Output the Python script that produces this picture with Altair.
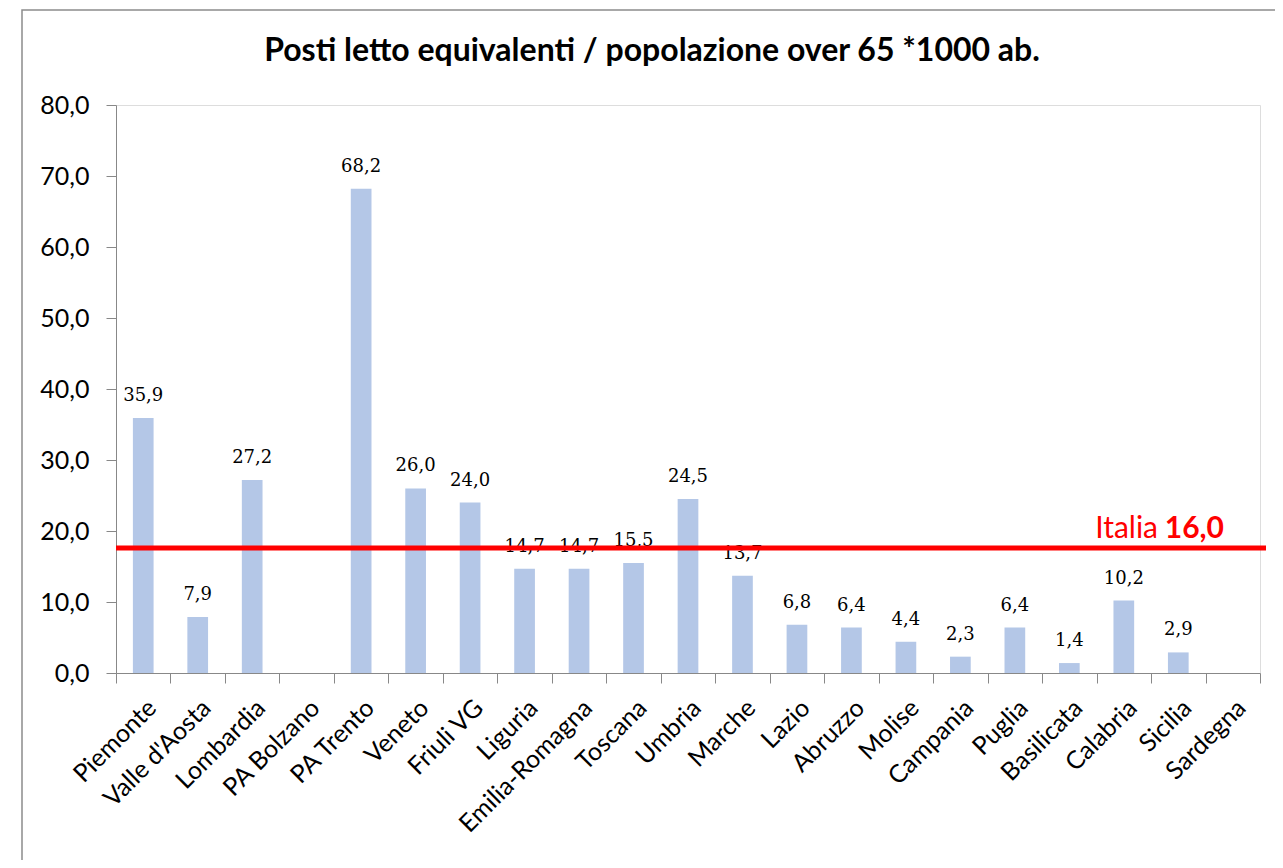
import altair as alt
import pandas as pd

regions = ["Piemonte", "Valle d'Aosta", "Lombardia", "PA Bolzano", "PA Trento", "Veneto",
           "Friuli VG", "Liguria", "Emilia-Romagna", "Toscana", "Umbria", "Marche", "Lazio",
           "Abruzzo", "Molise", "Campania", "Puglia", "Basilicata", "Calabria", "Sicilia", "Sardegna"]
values = [35.9, 7.9, 27.2, None, 68.2, 26.0, 24.0, 14.7, 14.7, 15.5, 24.5, 13.7, 6.8,
          6.4, 4.4, 2.3, 6.4, 1.4, 10.2, 2.9, None]
italia_line = [17.6]
italia_label = ["Italia", "16,0"]
y_ticks = [0, 10, 20, 30, 40, 50, 60, 70, 80]

df = pd.DataFrame({"region": regions, "value": values})
df["label"] = df["value"].map(lambda v: "" if pd.isna(v) else f"{v:.1f}".replace(".", ","))

W, H = 1144, 568

xscale = alt.Scale(domain=regions, paddingInner=0, paddingOuter=0)
xenc = alt.X("region:N", sort=regions, title=None, scale=xscale,
             axis=alt.Axis(labelAngle=-45, labelAlign="right", labelBaseline="top",
                           labelFont="Lato", labelFontSize=25, labelColor="#000000",
                           labelPadding=12, tickBand="extent", tickSize=10,
                           tickColor="#888888", domainColor="#888888", labelOverlap=False))
yscale = alt.Scale(domain=[0, 80], nice=False)
yenc = alt.Y("value:Q", scale=yscale, title=None,
             axis=alt.Axis(values=y_ticks, grid=False, labelFont="Lato", labelFontSize=25,
                           labelColor="#000000", tickSize=10, tickColor="#888888",
                           domainColor="#888888", labelPadding=17,
                           labelExpr="replace(format(datum.value, '.1f'), '.', ',')"))

base = alt.Chart(df).transform_filter("isValid(datum.value)")

bars = base.mark_bar(color="#B4C7E7", width=alt.RelativeBandSize(0.38)).encode(x=xenc, y=yenc)

text = base.mark_text(font="DejaVu Serif", fontSize=18, color="#000000",
                      baseline="alphabetic", dy=-17).encode(
    x=alt.X("region:N", sort=regions, scale=xscale), y=alt.Y("value:Q", scale=yscale), text="label:N")

line_df = pd.DataFrame({"v": italia_line})
rule = alt.Chart(line_df).mark_rule(color="#FF0000", strokeWidth=5).encode(
    y=alt.Y("v:Q", scale=yscale), x=alt.value(0), x2=alt.value(W + 6))

lab1 = alt.Chart(line_df).mark_text(font="Lato", fontSize=30, color="#FF0000",
                                    align="right", baseline="alphabetic", dy=-10).encode(
    y=alt.Y("v:Q", scale=yscale), x=alt.value(1042), text=alt.value(italia_label[0]))
lab2 = alt.Chart(line_df).mark_text(font="Lato", fontSize=30, fontWeight="bold", color="#FF0000",
                                    align="right", baseline="alphabetic", dy=-10).encode(
    y=alt.Y("v:Q", scale=yscale), x=alt.value(1108), text=alt.value(italia_label[1]))

frame = alt.Chart(pd.DataFrame({"a": [0]})).mark_rect(fill="transparent", stroke="#8C8C8C",
                                                     strokeWidth=1.5).encode(
    x=alt.value(-94), x2=alt.value(1165), y=alt.value(-95), y2=alt.value(780))

chart = alt.layer(frame, bars, text, rule, lab1, lab2).properties(
    width=W, height=H,
    title=alt.TitleParams("Posti letto equivalenti / popolazione over 65 *1000 ab.",
                          font="Lato", fontSize=32, fontWeight="bold", color="#000000",
                          anchor="middle", dx=-36, offset=-84, baseline="alphabetic"),
    autosize=alt.AutoSizeParams(type="none"),
    padding={"left": 108, "top": 97, "right": 15, "bottom": 187},
).configure_view(stroke=None).configure(background="white")

chart.save("out.html", embed_options={"renderer": "svg", "actions": False})
